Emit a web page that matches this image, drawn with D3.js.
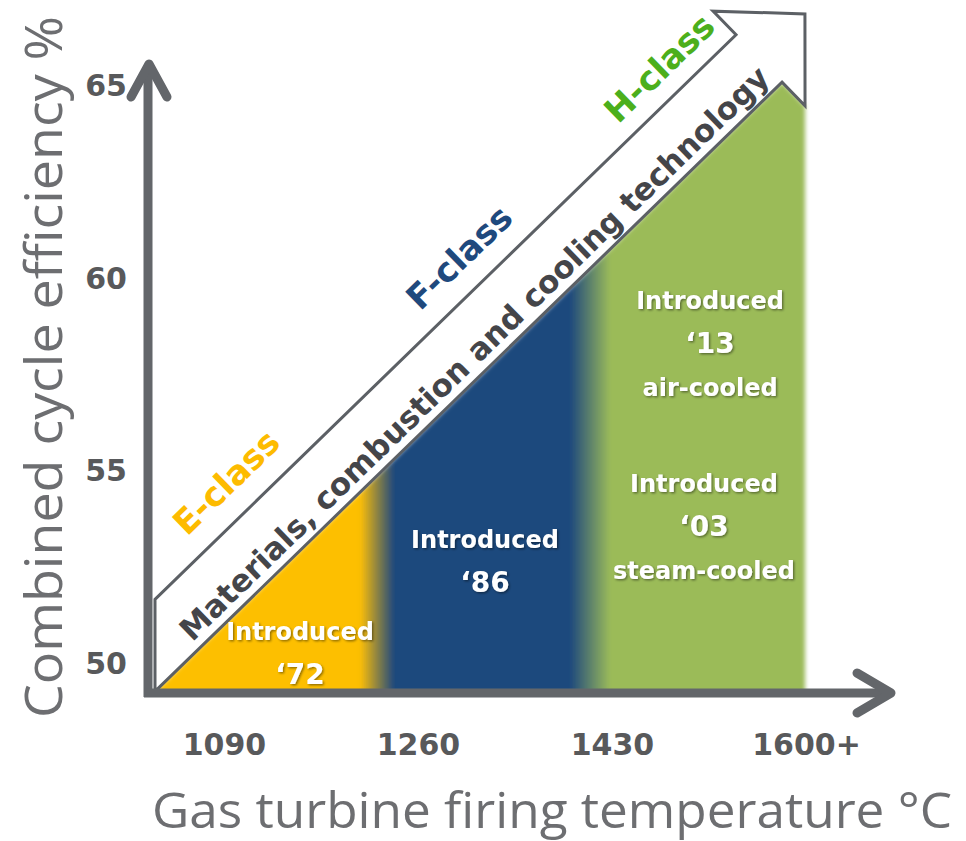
<!DOCTYPE html>
<html>
<head>
<meta charset="utf-8">
<script src="https://cdn.jsdelivr.net/npm/d3@7"></script>
<style>
  html, body { margin: 0; padding: 0; background: #ffffff; }
  svg { display: block; }
</style>
</head>
<body>
<svg id="chart" width="966" height="841"></svg>
<script>
// ---- data ----
// combined cycle efficiency ticks (%)
const yTicks = [50, 55, 60, 65];
// gas turbine firing temperature ticks (°C) and their labels
const xTicks = [1090, 1260, 1430, 1600];
const xTickLabels = ["1090", "1260", "1430", "1600+"];
// turbine classes and the firing-temperature span of each band (°C)
const classNames = ["E-class", "F-class", "H-class"];
const classBounds = [1031, 1224, 1411, 1600];
// efficiency trend that caps the class bands: temperature (°C) -> efficiency (%)
const trendTemp = [1031, 1579];
const trendEff = [49.33, 65.10];
// introduction notes written inside the bands
const introClass = [0, 1, 2, 2];
const introYear = ["‘72", "‘86", "‘13", "‘03"];
const introNote = ["", "", "air-cooled", "steam-cooled"];
const arrowText = "Materials, combustion and cooling technology";

// ---- layout (temperature °C, efficiency %) ----
const classLabelAt = [[1091.8, 54.72], [1295.9, 60.56], [1471.2, 65.47]];
const introAt = [[1156.6, 50.62], [1318.7, 53.01], [1515.9, 59.21], [1510.6, 54.46]];

// ---- styles ----
const classColors = ["#fdbf06", "#1f497d", "#9bbb59"];
const classTextColors = ["#fdbb00", "#1f497d", "#4caf1c"];
const axisGray = "#63666a";
const tickGray = "#58595b";
const titleGray = "#6d6e71";
const boldFace = "'DejaVu Sans', Verdana, sans-serif";
const titleFace = "'Open Sans', 'Noto Sans', sans-serif";

const svg = d3.select("#chart");
const x = d3.scaleLinear().domain([1090, 1600]).range([224, 806]);
const y = d3.scaleLinear().domain([50, 65]).range([664, 86]);
const axisLeftX = 148, axisBaseY = 693;

const defs = svg.append("defs");

// soft edges of the coloured bands
const soft = defs.append("filter").attr("id", "soft")
  .attr("x", "-5%").attr("y", "-5%").attr("width", "110%").attr("height", "110%");
soft.append("feGaussianBlur").attr("stdDeviation", 2.2);

// shadow under the white notes
const shade = defs.append("filter").attr("id", "shade")
  .attr("x", "-10%").attr("y", "-20%").attr("width", "130%").attr("height", "150%");
shade.append("feDropShadow").attr("dx", 1.3).attr("dy", 1.3)
  .attr("stdDeviation", 1).attr("flood-color", "#000").attr("flood-opacity", 0.45);

// horizontal gradient blending one class band into the next
const gx0 = x(classBounds[0]), gx1 = x(classBounds[3]);
const grad = defs.append("linearGradient").attr("id", "bands")
  .attr("gradientUnits", "userSpaceOnUse")
  .attr("x1", gx0).attr("x2", gx1).attr("y1", 0).attr("y2", 0);
const blendHalf = [0, 17, 20];
const stops = [[gx0, classColors[0]]];
for (let i = 1; i < classNames.length; i++) {
  const b = x(classBounds[i]);
  stops.push([b - blendHalf[i], classColors[i - 1]]);
  stops.push([b + blendHalf[i], classColors[i]]);
}
stops.push([gx1, classColors[classColors.length - 1]]);
grad.selectAll("stop").data(stops).join("stop")
  .attr("offset", d => (d[0] - gx0) / (gx1 - gx0))
  .attr("stop-color", d => d[1]);

// ---- arrow geometry along the trend ----
const P0 = [x(trendTemp[0]), y(trendEff[0])];
const P1 = [x(trendTemp[1]), y(trendEff[1])];
const len = Math.hypot(P1[0] - P0[0], P1[1] - P0[1]);
const u = [(P1[0] - P0[0]) / len, (P1[1] - P0[1]) / len];
const n = [u[1], -u[0]];               // normal pointing up-left
const shaftW = 66, headOver = 33, headLen = 64;
const add = (p, v, k) => [p[0] + v[0] * k, p[1] + v[1] * k];
const U1 = add(P1, n, shaftW);
const wingA = add(U1, n, headOver);
const wingB = add(P1, n, -headOver);
const baseMid = [(wingA[0] + wingB[0]) / 2, (wingA[1] + wingB[1]) / 2];
const tip = add(baseMid, u, headLen);
const cutX = axisLeftX + 7;
const U0 = add(add(P0, n, shaftW), u, (cutX - (P0[0] + n[0] * shaftW)) / u[0]);
const L0 = add(P0, u, (cutX - P0[0]) / u[0]);
const angle = Math.atan2(u[1], u[0]) * 180 / Math.PI;

// ---- class bands ----
const bandShape = [P0, P1, wingB, [wingB[0], axisBaseY], [P0[0], axisBaseY]];
svg.append("path")
  .attr("d", d3.line()(bandShape) + "Z")
  .attr("fill", "url(#bands)")
  .attr("filter", "url(#soft)");

// ---- technology arrow ----
svg.append("path")
  .attr("d", d3.line()([U0, U1, wingA, tip, wingB, P1, L0]) + "Z")
  .attr("fill", "#ffffff")
  .attr("stroke", "#5c6065")
  .attr("stroke-width", 3)
  .attr("stroke-linejoin", "miter");

// the caption sits a little nearer the lower edge of the shaft
const mid = add(add(P0, n, 20), u, len * 0.53);
svg.append("text")
  .attr("transform", `translate(${mid[0]},${mid[1]}) rotate(${angle})`)
  .attr("text-anchor", "middle")
  .attr("dy", "0.35em")
  .attr("font-family", boldFace)
  .attr("font-weight", 700)
  .attr("font-size", 31)
  .attr("fill", "#444549")
  .text(arrowText);

// class names above the arrow
svg.selectAll("text.cls").data(classNames).join("text")
  .attr("class", "cls")
  .attr("transform", (d, i) => `translate(${x(classLabelAt[i][0])},${y(classLabelAt[i][1])}) rotate(${angle})`)
  .attr("text-anchor", "middle")
  .attr("dy", "0.36em")
  .attr("font-family", boldFace)
  .attr("font-weight", 700)
  .attr("font-size", 34)
  .attr("fill", (d, i) => classTextColors[i])
  .text(d => d);

// introduction notes
const notes = svg.selectAll("g.note").data(introYear).join("g")
  .attr("class", "note")
  .attr("transform", (d, i) => `translate(${x(introAt[i][0])},${y(introAt[i][1])})`)
  .attr("font-family", boldFace)
  .attr("font-weight", 700)
  .attr("fill", "#ffffff")
  .attr("text-anchor", "middle")
  .attr("filter", "url(#shade)");
notes.append("text").attr("font-size", 24).text("Introduced");
notes.append("text").attr("y", 44).attr("font-size", 28).text(d => d);
notes.append("text").attr("y", 87).attr("font-size", 24).text((d, i) => introNote[i]);

// ---- axes ----
const axisG = svg.append("g")
  .attr("stroke", axisGray).attr("stroke-width", 9).attr("fill", "none");
axisG.append("path")
  .attr("d", d3.line()([[axisLeftX, axisBaseY + 4], [axisLeftX, 66]]));
axisG.append("path")
  .attr("d", d3.line()([[axisLeftX - 4, axisBaseY], [888, axisBaseY]]));
axisG.append("path")
  .attr("stroke-linecap", "round").attr("stroke-linejoin", "round")
  .attr("d", d3.line()([[axisLeftX - 17, 97], [axisLeftX + 1, 64], [axisLeftX + 19, 97]]));
axisG.append("path")
  .attr("stroke-linecap", "round").attr("stroke-linejoin", "round")
  .attr("d", d3.line()([[857, axisBaseY - 20], [891, axisBaseY], [857, axisBaseY + 20]]));

const yAxis = svg.append("g")
  .attr("transform", "translate(127,0)")
  .call(d3.axisLeft(y).tickValues(yTicks).tickSize(0).tickPadding(0));
const xAxis = svg.append("g")
  .attr("transform", "translate(0,733)")
  .call(d3.axisBottom(x).tickValues(xTicks).tickSize(0).tickPadding(0)
    .tickFormat((d, i) => xTickLabels[i]));
[yAxis, xAxis].forEach(g => {
  g.select(".domain").remove();
  g.selectAll("text")
    .attr("font-family", boldFace)
    .attr("font-weight", 700)
    .attr("font-size", 30)
    .attr("fill", tickGray);
});
xAxis.selectAll("text").attr("dy", "0.72em");

// axis titles
svg.append("text")
  .attr("x", 552).attr("y", 828)
  .attr("text-anchor", "middle")
  .attr("font-family", titleFace)
  .attr("font-size", 49)
  .attr("fill", titleGray)
  .attr("textLength", 800).attr("lengthAdjust", "spacingAndGlyphs")
  .text("Gas turbine firing temperature °C");
svg.append("text")
  .attr("transform", "translate(62,367) rotate(-90)")
  .attr("text-anchor", "middle")
  .attr("font-family", titleFace)
  .attr("font-size", 52)
  .attr("fill", titleGray)
  .attr("textLength", 702).attr("lengthAdjust", "spacingAndGlyphs")
  .text("Combined cycle efficiency %");
</script>
</body>
</html>
